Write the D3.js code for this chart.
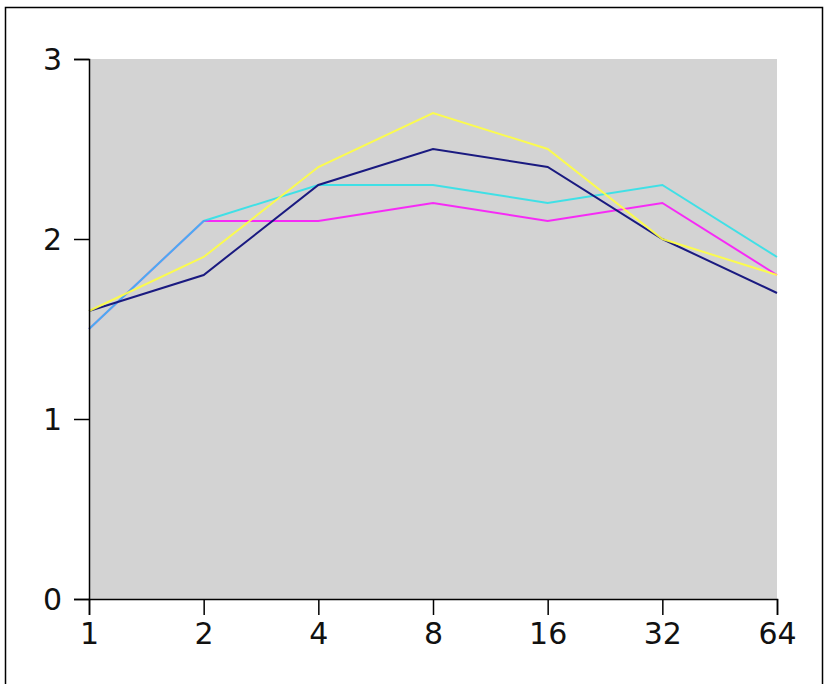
<!DOCTYPE html>
<html><head><meta charset="utf-8">
<script src="https://d3js.org/d3.v7.min.js"></script>
<style>body{margin:0;background:#fff}svg{display:block}</style>
</head><body>
<script>
const xValues = [1, 2, 4, 8, 16, 32, 64];
const yTicks = [0, 1, 2, 3];
const magenta = [1.5, 2.1, 2.1, 2.2, 2.1, 2.2, 1.8];
const cyan = [1.5, 2.1, 2.3, 2.3, 2.2, 2.3, 1.9];
const navy = [1.6, 1.8, 2.3, 2.5, 2.4, 2.0, 1.7];
const yellow = [1.6, 1.9, 2.4, 2.7, 2.5, 2.0, 1.8];
const series = [
  {vals: magenta, color: '#ff00ff', op: 0.8},
  {vals: cyan, color: '#00e5ee', op: 0.7},
  {vals: navy, color: '#1a1a80', op: 1},
  {vals: yellow, color: '#ffff40', op: 0.9}
];

const svg = d3.select('body').append('svg').attr('width', 826).attr('height', 684);
svg.append('rect').attr('x', 5.5).attr('y', 7.5).attr('width', 817).attr('height', 690)
  .attr('fill', 'none').attr('stroke', '#000').attr('stroke-width', 1.5);

const x = d3.scaleLog().base(2).domain([1, 64]).range([89, 777]);
const y = d3.scaleLinear().domain([0, 3]).range([599, 59]);

svg.append('rect').attr('x', 89).attr('y', 59).attr('width', 688).attr('height', 540).attr('fill', '#d3d3d3');

const line = d3.line().x((d, i) => x(xValues[i])).y(d => y(d));
series.forEach(s => {
  svg.append('path').datum(s.vals).attr('d', line).attr('fill', 'none')
    .attr('stroke', s.color).attr('stroke-opacity', s.op).attr('stroke-width', 2);
});

const xa = svg.append('g').attr('transform', 'translate(0,599)')
  .call(d3.axisBottom(x).tickValues(xValues).tickFormat(d3.format('d')).tickSizeOuter(0).tickSize(16).tickPadding(8));
const ya = svg.append('g').attr('transform', 'translate(89,0)')
  .call(d3.axisLeft(y).tickValues(yTicks).tickFormat(d3.format('d')).tickSizeOuter(0).tickSize(15).tickPadding(12));
[xa, ya].forEach(a => {
  a.selectAll('text').style('font-family', 'DejaVu Sans').style('font-size', '30px').attr('fill', '#111');
  a.selectAll('line,path').attr('stroke', '#000').attr('stroke-width', 1.5);
});
ya.selectAll('text').attr('dy', '0.35em');
</script>
</body></html>
